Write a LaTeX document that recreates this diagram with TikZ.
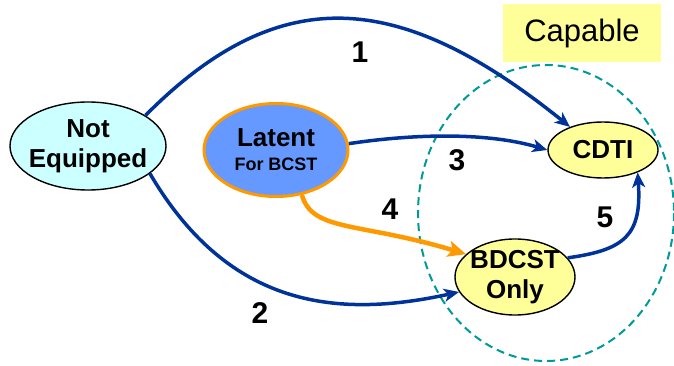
\documentclass[tikz,border=0pt]{standalone}
\usepackage{fontspec}
\setmainfont{Liberation Sans}
\usetikzlibrary{arrows.meta,shapes.geometric}
\definecolor{flowblue}{HTML}{003399}
\definecolor{flowgold}{HTML}{FF9900}
\definecolor{ringteal}{HTML}{009999}
\definecolor{paleyellow}{HTML}{FFFF99}
\definecolor{palecyan}{HTML}{CCFFFF}
\definecolor{midblue}{HTML}{6699FF}
\tikzset{
  state/.style={ellipse, draw=black, line width=1.4pt, inner sep=0pt},
  statetext/.style={inner sep=0pt, align=center,
    font=\fontsize{26}{30}\selectfont\bfseries},
  flow/.style={draw=flowblue, line width=3.5pt,
    -{Stealth[length=15pt,width=13pt,inset=4pt]}},
  goldflow/.style={draw=flowgold, line width=4.5pt,
    -{Stealth[length=18pt,width=16pt,inset=4pt]}},
  steplabel/.style={font=\fontsize{30}{34}\selectfont\bfseries},
}
\begin{document}
\begin{tikzpicture}[x=1pt,y=-1pt]
\useasboundingbox (0,0) rectangle (674,366);

% capable region
\draw[ringteal, line width=2pt, dash pattern=on 8pt off 5pt]
  (546,213) ellipse [x radius=128, y radius=148];
\node[fill=paleyellow, minimum width=158pt, minimum height=58pt, inner sep=0pt,
  font=\fontsize{31}{34}\selectfont] (cap) at (582,33) {Capable};

% states (outlines)
\node[state, fill=palecyan, minimum width=156pt, minimum height=88pt] (ne) at (88,146) {};
\node[state, fill=midblue, draw=flowgold, line width=3pt,
  minimum width=144pt, minimum height=93pt] (lat) at (276,150) {};
\node[state, fill=paleyellow, minimum width=110pt, minimum height=56pt] (cdti) at (603,150) {};
\node[state, fill=paleyellow, minimum width=120pt, minimum height=76pt] (bd) at (515,277) {};

% state names
\node[statetext] (ne-t) at (ne) {Not\\Equipped};
\node[statetext, font=\fontsize{26}{25}\selectfont\bfseries] (lat-t) at (lat)
  {Latent\\[-1pt]{\fontsize{18}{20}\selectfont For BCST}};
\node[statetext] (cdti-t) at (cdti) {CDTI};
\node[statetext] (bd-t) at (bd) {BDCST\\Only};

% transitions
\draw[flow] (ne.28) .. controls (280,-20) and (400,-10) .. (cdti.145);
\draw[flow] (ne.-24) .. controls (230,310) and (340,318) .. (bd.195);
\draw[flow] (lat.5) .. controls (420,133) and (490,133) .. (cdti.180);
\draw[goldflow] (lat.-60) .. controls (312,232) and (360,222) .. (bd.155);
\draw[flow] (bd.20) .. controls (625,250) and (642,235) .. (cdti.-33);

% transition numbers
\node[steplabel] (n1) at (360,52) {1};
\node[steplabel] (n2) at (260,313) {2};
\node[steplabel] (n3) at (457,160) {3};
\node[steplabel] (n4) at (390,209) {4};
\node[steplabel] (n5) at (605,217) {5};
\end{tikzpicture}
\end{document}
